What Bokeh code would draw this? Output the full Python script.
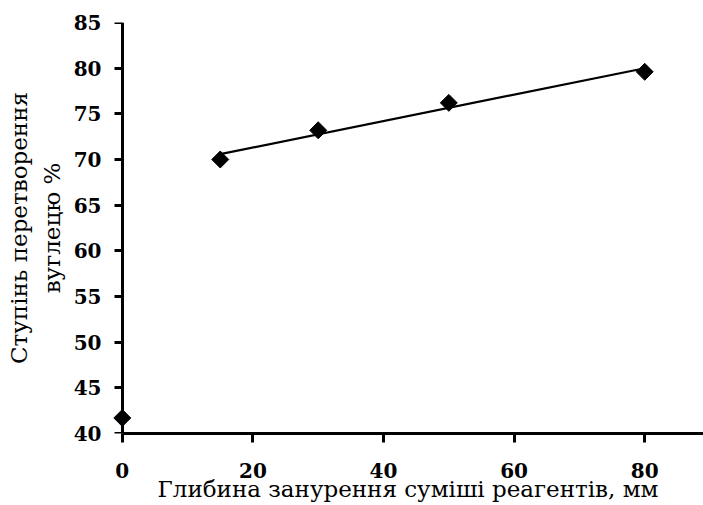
import numpy as np
from bokeh.plotting import figure
from bokeh.models import Range1d, FixedTicker, ColumnDataSource, LinearAxis
from bokeh.embed import file_html
from bokeh.resources import INLINE

# Data
depth = [0, 15, 30, 50, 80]
conversion = [41.7, 70.0, 73.2, 76.2, 79.6]
x_ticks = [0, 20, 40, 60, 80]
y_ticks = [40, 45, 50, 55, 60, 65, 70, 75, 80, 85]
x_label = "Глибина занурення суміші реагентів, мм"
y_label = "Ступінь перетворення\nвуглецю %"

# Linear trend over the points with depth > 0
xs = np.array(depth[1:], dtype=float)
ys = np.array(conversion[1:], dtype=float)
k, b = np.polyfit(xs, ys, 1)
trend_x = [xs.min(), xs.max()]
trend_y = [k * xs.min() + b, k * xs.max() + b]

FONT = "DejaVu Serif"

p = figure(width=703, height=505, output_backend="svg", toolbar_location=None,
           x_range=Range1d(-1.5, 89), y_range=Range1d(40, 85),
           min_border_left=112, min_border_right=0, min_border_top=22,
           min_border_bottom=72)
p.outline_line_color = None
p.xgrid.visible = False
p.ygrid.visible = False
p.background_fill_color = "white"
p.border_fill_color = "white"

p.line(trend_x, trend_y, line_color="black", line_width=2.2)
src = ColumnDataSource(dict(x=depth, y=conversion))
p.scatter("x", "y", source=src, marker="square", size=12, angle=np.pi / 4,
          fill_color="black", line_color="black")

# Axis that draws the line and ticks exactly at depth 0 (labels not painted)
yline = LinearAxis(fixed_location=0, ticker=FixedTicker(ticks=y_ticks))
yline.axis_line_width = 3
yline.major_tick_line_width = 3
yline.major_tick_in = 0
yline.major_tick_out = 8
yline.minor_tick_line_color = None
yline.major_label_text_font_size = "1px"
yline.major_label_text_color = None
yline.major_label_standoff = 0
p.add_layout(yline, "left")

styles = dict(major_label_text_font=FONT, major_label_text_font_style="bold",
              major_label_text_font_size="20px", major_label_text_color="black",
              axis_label_text_font=FONT, axis_label_text_font_style="normal",
              axis_label_text_font_size="23px", axis_label_text_color="black")

xa = p.xaxis[0]
xa.update(**styles)
xa.axis_line_width = 3
xa.major_tick_line_width = 3
xa.minor_tick_line_color = None
xa.major_tick_in = 0
xa.major_tick_out = 9
xa.ticker = FixedTicker(ticks=x_ticks)
xa.bounds = (0, 89)
xa.major_label_standoff = 20
xa.axis_label = x_label
xa.axis_label_standoff = -5

ya = p.yaxis[0]
ya.update(**styles)
ya.ticker = FixedTicker(ticks=y_ticks)
ya.axis_line_color = None
ya.major_tick_line_color = None
ya.minor_tick_line_color = None
ya.major_tick_in = 0
ya.major_tick_out = 0
ya.major_label_standoff = 11
ya.axis_label = y_label
ya.axis_label_standoff = 6
ya.axis_label_text_line_height = 1.25

open("out.html", "w").write(file_html(p, INLINE))
